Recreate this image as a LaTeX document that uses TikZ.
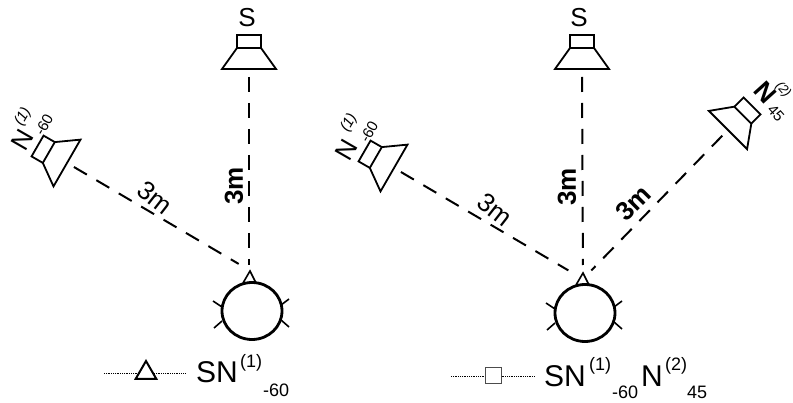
\documentclass[tikz,border=0pt]{standalone}
\usepackage{fontspec}
\setmainfont{Liberation Sans}
\usetikzlibrary{shapes.geometric}
\tikzset{
    dashline/.style={line width=2pt,dash pattern=on 15pt off 11pt},
    distlabel/.style={font=\bfseries\fontsize{26}{26}\selectfont,inner sep=0pt},
    dotline/.style={line width=0.8pt,densely dotted},
    bigtext/.style={font=\fontsize{30}{30}\selectfont,anchor=base west,inner sep=0pt},
    midtext/.style={font=\fontsize{18}{18}\selectfont,anchor=base west,inner sep=0pt},
    spktext/.style={font=\fontsize{26}{26}\selectfont,inner sep=0pt},
    smalltext/.style={font=\fontsize{15}{15}\selectfont,inner sep=0pt},
    speaker/.pic={
        \draw[line width=1.8pt,line join=miter] (-27,0) -- (27,0) -- (12,-21) -- (-12,-21) -- cycle;
        \draw[line width=1.8pt] (-12,-21) -- (-12,-34) -- (12,-34) -- (12,-21);
        \coordinate (-mouth) at (0,8);
    },
    head/.pic={
        \draw[line width=2.8pt] (0,0) ellipse (30 and 28.5);
        \draw[line width=1.6pt] (-39,-10) -- (-30,-4) (-38,17) -- (-30,10);
        \draw[line width=1.6pt] (37,-12) -- (29,-6) (37,16) -- (29,9);
        \draw[line width=1.6pt] (-9,-28) -- (-2,-40) -- (4,-28);
    }
}
\begin{document}
\begin{tikzpicture}[x=1pt,y=-1pt]
    \useasboundingbox (0,0) rectangle (793,403);
    % left setup
    \pic (sA) at (249,69) {speaker};
    \pic[rotate=60] (nA) at (67,163) {speaker};
    \pic (hA) at (252,311) {head};
    \coordinate (tgtA) at (249,270);
    \node[spktext] (lblSA) at (247,18) {S};
    \node[spktext,rotate=60] (lblNA) at (22,140) {N};
    \node[smalltext,rotate=60] (lblNAup) at (23,117) {\itshape (1)};
    \node[smalltext,rotate=60] (lblNAdn) at (44,125) {-60};
    \draw[dashline,shorten >=5pt] (sA-mouth) -- (tgtA);
    \draw[dashline,shorten >=12pt] (nA-mouth) -- (tgtA);
    \node[distlabel,rotate=90] (lblDA) at (234,186) {3m};
    \node[distlabel,font=\fontsize{26}{26}\selectfont,rotate=-38] (lblDB) at (155,198) {3m};
    % right setup
    \pic (sB) at (582,69) {speaker};
    \pic[rotate=60] (nB) at (394,168) {speaker};
    \pic[rotate=-45] (nC) at (728,130) {speaker};
    \pic (hB) at (585,313) {head};
    \coordinate (tgtB) at (583,279);
    \node[spktext] (lblSB) at (579,18) {S};
    \node[spktext,rotate=60] (lblNB) at (346,150) {N};
    \node[smalltext,rotate=60] (lblNBup) at (349,123) {\itshape (1)};
    \node[smalltext,rotate=60] (lblNBdn) at (369,132) {-60};
    \node[spktext,rotate=-48,font=\bfseries\fontsize{26}{26}\selectfont] (lblNC) at (765,92) {N};
    \node[smalltext,font=\itshape\fontsize{13}{13}\selectfont,rotate=-48] (lblNCup) at (783,90) {(2)};
    \node[smalltext,rotate=-48] (lblNCdn) at (776,113) {45};
    \draw[dashline,shorten >=14pt] (sB-mouth) -- (tgtB);
    \draw[dashline,shorten >=17pt] (nB-mouth) -- (tgtB);
    \draw[dashline,shorten >=12pt] (nC-mouth) -- (tgtB);
    \node[distlabel,rotate=90] (lblDC) at (567,187) {3m};
    \node[distlabel,font=\fontsize{26}{26}\selectfont,rotate=-38] (lblDD) at (495,210) {3m};
    \node[distlabel,rotate=45] (lblDE) at (633,203) {3m};
    % legends
    \coordinate (legAw) at (104,373);
    \coordinate (legAe) at (186,373);
    \node[regular polygon,regular polygon sides=3,draw,fill=white,line width=2pt,inner sep=0pt,minimum size=24pt] (triA) at (146,373) {};
    \draw[dotline] (legAw) -- (triA) (triA) -- (legAe);
    \node[bigtext] (txtA) at (196,383) {SN};
    \node[midtext] (txtAup) at (240,368) {(1)};
    \node[midtext] (txtAdn) at (263,396) {-60};
    \coordinate (legBw) at (451,376);
    \coordinate (legBe) at (535,376);
    \node[draw=black!70,line width=1pt,inner sep=0pt,minimum size=16pt] (boxB) at (493,376) {};
    \draw[dotline] (legBw) -- (boxB) (boxB) -- (legBe);
    \node[bigtext] (txtB) at (544,387) {SN};
    \node[midtext] (txtBup) at (589,371) {(1)};
    \node[midtext] (txtBdn) at (612,399) {-60};
    \node[bigtext] (txtC) at (641,387) {N};
    \node[midtext] (txtCup) at (665,371) {(2)};
    \node[midtext] (txtCdn) at (687,399) {45};
\end{tikzpicture}
\end{document}
